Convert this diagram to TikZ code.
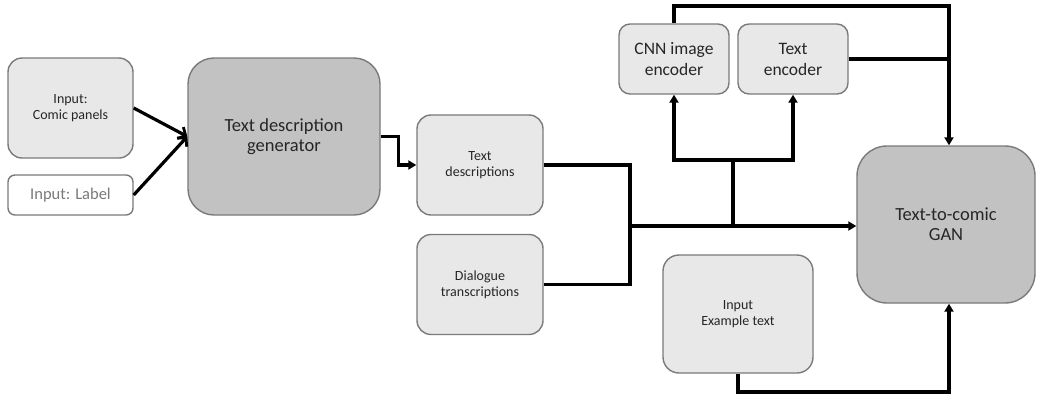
\documentclass[tikz,border=0pt]{standalone}
\usepackage{fontspec}
\setmainfont{Carlito}
\usetikzlibrary{arrows.meta}
\definecolor{lightfill}{HTML}{E8E8E8}
\definecolor{darkfill}{HTML}{C2C2C2}
\definecolor{edge}{HTML}{7A7A7A}
\definecolor{labeltext}{HTML}{7A7A7A}
\begin{document}
\begin{tikzpicture}[x=1pt,y=-1pt,
  box/.style={draw=edge, line width=1.4pt, align=center, inner sep=0pt, text=black!85},
  lightbox/.style={box, fill=lightfill, rounded corners=14pt},
  darkbox/.style={box, fill=darkfill, rounded corners=26pt},
  conn/.style={line width=3.2pt, line join=miter},
  arr/.style={conn, -{Triangle[length=8pt,width=9pt]}},
  openarr/.style={conn, -{Straight Barb[length=6pt,width=13pt,line width=2.8pt]}},
  f14/.style={font=\fontsize{14}{16}\selectfont},
  f16/.style={font=\fontsize{16.5}{19}\selectfont},
  f17/.style={font=\fontsize{17.5}{21}\selectfont},
  f20/.style={font=\fontsize{18.5}{20}\selectfont},
]
\useasboundingbox (0,0) rectangle (1038,394);
\node[lightbox, f14, minimum width=125pt, minimum height=100pt] (panels) at (70.5,108) {Input:\\Comic panels};
\node[box, rounded corners=7pt, fill=white, text=labeltext, f16, minimum width=125pt, minimum height=40pt] (label) at (70.5,195) {Input: Label};
\node[darkbox, f20, minimum width=192pt, minimum height=157pt] (gen) at (284,136.5) {Text description\\generator};
\node[lightbox, f14, minimum width=126pt, minimum height=100pt] (td) at (480,165) {Text\\descriptions};
\node[lightbox, f14, minimum width=126pt, minimum height=100pt] (dt) at (480,284.5) {Dialogue\\transcriptions};
\node[lightbox, rounded corners=11pt, f17, minimum width=110pt, minimum height=70pt] (cnn) at (674,59) {CNN image\\encoder};
\node[lightbox, rounded corners=11pt, f17, minimum width=110pt, minimum height=70pt] (te) at (793,59) {Text\\encoder};
\node[darkbox, rounded corners=30pt, f20, minimum width=178pt, minimum height=157pt] (gan) at (946,224.5) {Text-to-comic\\GAN};
\node[lightbox, rounded corners=16pt, f14, minimum width=150pt, minimum height=118pt] (ex) at (738,314) {Input\\Example text};

\coordinate (m) at (630,226);
\coordinate (b) at (733,226);
\coordinate (s) at (733,160);
\coordinate (t) at (949,6);
\coordinate (r) at (949,59);
\coordinate (bot) at (738,392);

\draw[openarr] (panels.east) -- (gen.west);
\draw[openarr] (label.east) -- (gen.west);
\draw[arr] (gen.east) -- ++(18,0) |- (td.west);
\draw[conn] (td.east) -| (m);
\draw[conn] (dt.east) -| (m);
\draw[arr] (m) -- (m -| gan.west);
\draw[conn] (b) -- (s);
\draw[arr] (s) -| (cnn.south);
\draw[arr] (s) -| (te.south);
\draw[arr] (cnn.north) |- (t) -- (t |- gan.north);
\draw[conn] (te.east) -- (r);
\draw[arr] (ex.south) -- (bot) -| (t |- gan.south);
\end{tikzpicture}
\end{document}
